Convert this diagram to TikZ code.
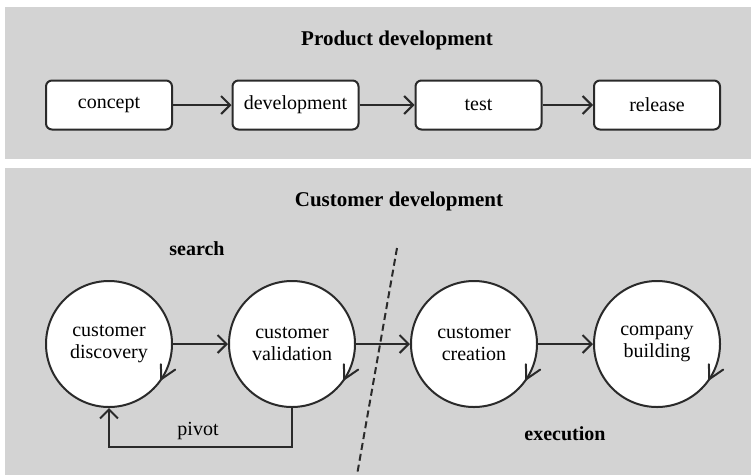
\documentclass[tikz,border=0pt]{standalone}
\usepackage{fontspec}
\setmainfont{Liberation Serif}
\usetikzlibrary{arrows.meta}
\definecolor{panelgray}{HTML}{D3D3D3}
\definecolor{inkc}{HTML}{2A2A2A}
\tikzset{
  panel/.style={fill=panelgray, draw=none},
  title/.style={font=\fontsize{21}{25}\selectfont\bfseries, text=black},
  lbl/.style={font=\fontsize{20}{23}\selectfont, text=black},
  boldlbl/.style={font=\fontsize{20}{23}\selectfont\bfseries, text=black},
  stagebox/.style={draw=inkc, fill=white, line width=2pt, rounded corners=6pt,
    minimum width=126pt, minimum height=49pt, inner sep=0pt,
    font=\fontsize{20}{23}\selectfont},
  phase/.style={circle, draw=inkc, fill=white, line width=2pt,
    minimum size=126pt, inner sep=0pt, align=center,
    font=\fontsize{20}{22}\selectfont},
  flow/.style={draw=inkc, line width=2pt, -{Straight Barb[length=9pt,width=18pt,line width=2pt]}},
  loopmark/.style={draw=inkc, line width=2pt, line join=miter, line cap=round},
  divider/.style={draw=inkc, line width=2pt, dash pattern=on 7pt off 4pt}
}
\begin{document}
\begin{tikzpicture}[x=1pt,y=-1pt]
  \useasboundingbox (0,0) rectangle (751,475);
  \fill[white] (0,0) rectangle (751,475);
  % panels
  \path[panel] (5,7) rectangle (751,159);
  \path[panel] (5,168) rectangle (751,475);
  % product development
  \node[title] (ptitle) at (397,40) {Product development};
  \node[stagebox] (concept) at (109,105) {concept};
  \node[stagebox] (devel) at (295.5,105) {development};
  \node[stagebox] (test) at (478.5,105) {test};
  \node[stagebox] (release) at (657,105) {release};
  \draw[flow] (concept) -- (devel);
  \draw[flow] (devel) -- (test);
  \draw[flow] (test) -- (release);
  % customer development
  \node[title] (ctitle) at (399,201) {Customer development};
  \node[boldlbl] (search) at (197,249) {search};
  \node[boldlbl] (execution) at (565,434) {execution};
  \node[phase] (disc) at (109,344) {customer\\discovery};
  \node[phase] (valid) at (292,344) {customer\\validation};
  \node[phase] (creat) at (474,344) {customer\\creation};
  \node[phase] (build) at (657,344) {company\\building};
  \draw[flow] (disc) -- (valid);
  \draw[flow] (valid) -- (creat);
  \draw[flow] (creat) -- (build);
  % pivot loop
  \draw[flow] (valid.south) -- ++(0,39) coordinate (pv) -| (disc.south);
  \node[lbl] (pivot) at (198,431) {pivot};
  % iteration marks (clockwise chevrons on each circle)
  \foreach \c in {disc,valid,creat,build}{
    \draw[loopmark] (\c.center) ++(51.9,20.2) coordinate (\c-a1)
      -- ++(0.3,15) coordinate (\c-tip)
      -- ++(14,-9.6) coordinate (\c-a2);
  }
  % divider
  \coordinate (dtop) at (397,248);
  \coordinate (dbot) at (357,475);
  \draw[divider] (dtop) -- (dbot);
\end{tikzpicture}
\end{document}
